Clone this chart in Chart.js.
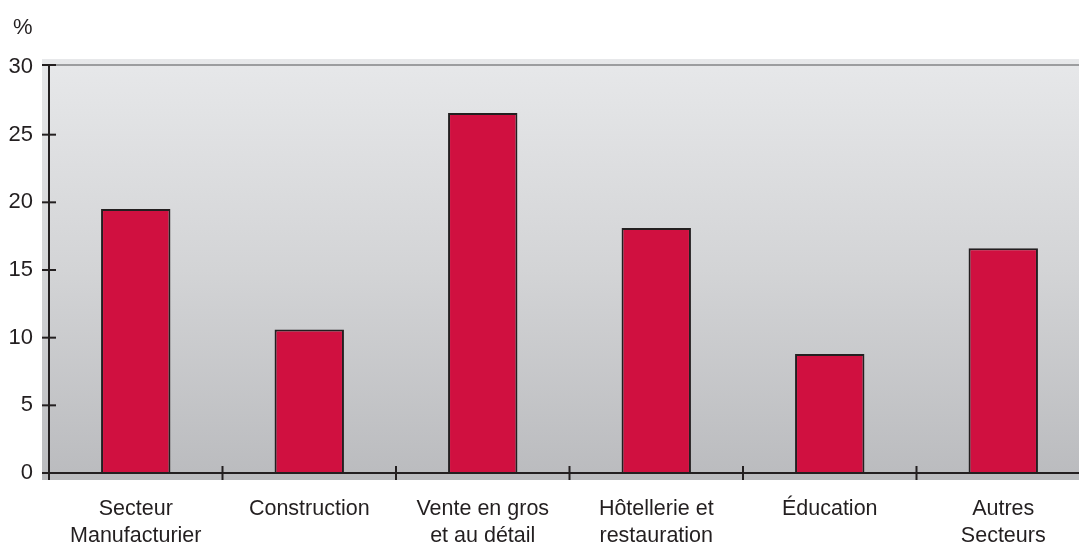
<!DOCTYPE html>
<html>
<head>
<meta charset="utf-8">
<script src="https://cdn.jsdelivr.net/npm/chart.js@4.4.1/dist/chart.umd.min.js"></script>
<style>
  html, body { margin: 0; padding: 0; background: #ffffff; overflow: hidden; }
  #wrap { width: 1090px; height: 548px; }
</style>
</head>
<body>
<div id="wrap"><canvas id="chart" width="1090" height="548"></canvas></div>
<script>
// Sector shares, in percent
const sectors = [
  ['Secteur', 'Manufacturier'],
  'Construction',
  ['Vente en gros', 'et au détail'],
  ['Hôtellerie et', 'restauration'],
  'Éducation',
  ['Autres', 'Secteurs']
];
const shares = [19.5, 10.6, 26.6, 18.1, 8.8, 16.6];
const yTicks = [0, 5, 10, 15, 20, 25, 30];

const ink = '#231f20';
const fontFamily = "'Liberation Sans', Arial, sans-serif";

// Gray gradient panel, frame lines and the crossing tick marks
const panelPlugin = {
  id: 'panel',
  beforeDraw(chart) {
    const { ctx, chartArea } = chart;
    const top = chartArea.top - 8;
    const bottom = chartArea.bottom + 7;
    const left = chartArea.left - 7;
    const grad = ctx.createLinearGradient(0, top, 0, bottom);
    grad.addColorStop(0, '#e7e8ea');
    grad.addColorStop(0.5, '#d3d4d6');
    grad.addColorStop(1, '#babbbe');
    ctx.save();
    ctx.fillStyle = grad;
    ctx.fillRect(left, top, chart.width - left, bottom - top);

    // line at the top of the scale
    const yScale = chart.scales.y;
    const yTop = yScale.getPixelForValue(30);
    ctx.strokeStyle = '#9c9d9f';
    ctx.lineWidth = 2;
    ctx.beginPath();
    ctx.moveTo(left, yTop - 2);
    ctx.lineTo(chart.width, yTop - 2);
    ctx.stroke();
    ctx.restore();
  },
  afterDatasetsDraw(chart) {
    const { ctx, chartArea } = chart;
    const yScale = chart.scales.y;
    const xScale = chart.scales.x;
    const axisX = chartArea.left;
    const zeroY = yScale.getPixelForValue(0);
    ctx.save();
    ctx.strokeStyle = ink;
    ctx.lineWidth = 2;

    // y axis
    ctx.beginPath();
    ctx.moveTo(axisX, yScale.getPixelForValue(30) - 2);
    ctx.lineTo(axisX, chartArea.bottom + 7);
    ctx.stroke();

    // zero line
    ctx.beginPath();
    ctx.moveTo(axisX - 7, zeroY);
    ctx.lineTo(chart.width, zeroY);
    ctx.stroke();

    // y ticks crossing the axis
    yTicks.forEach(v => {
      const y = yScale.getPixelForValue(v) - (v === 30 ? 2 : 0);
      ctx.beginPath();
      ctx.moveTo(axisX - 7, y);
      ctx.lineTo(axisX + 7, y);
      ctx.stroke();
    });

    // x ticks between categories
    for (let i = 1; i < sectors.length; i++) {
      const x = (xScale.getPixelForValue(i - 1) + xScale.getPixelForValue(i)) / 2;
      ctx.beginPath();
      ctx.moveTo(x, zeroY - 7);
      ctx.lineTo(x, zeroY + 7);
      ctx.stroke();
    }

    // unit label
    ctx.fillStyle = ink;
    ctx.font = '22px ' + fontFamily;
    ctx.textAlign = 'left';
    ctx.textBaseline = 'alphabetic';
    ctx.fillText('%', 13, 34);
    ctx.restore();
  }
};

new Chart(document.getElementById('chart'), {
  type: 'bar',
  data: {
    labels: sectors,
    datasets: [{
      data: shares,
      backgroundColor: '#d01040',
      borderColor: '#231f20',
      borderWidth: 2,
      borderSkipped: 'bottom',
      categoryPercentage: 1,
      barPercentage: 0.4
    }]
  },
  options: {
    responsive: false,
    animation: false,
    layout: {
      padding: { top: 67, right: 0, left: 0, bottom: 0 }
    },
    scales: {
      x: {
        afterFit: s => { s.height = 75; },
        grid: { display: false },
        border: { display: false },
        ticks: {
          color: ink,
          padding: 14,
          maxRotation: 0,
          autoSkip: false,
          font: { size: 21.5, family: fontFamily, lineHeight: 1.27 }
        }
      },
      y: {
        min: 0,
        max: 30,
        afterFit: s => { s.width = 49; },
        afterBuildTicks: s => { s.ticks = yTicks.map(v => ({ value: v })); },
        grid: { display: false },
        border: { display: false },
        ticks: {
          color: ink,
          padding: 8,
          font: { size: 22, family: fontFamily }
        }
      }
    },
    plugins: {
      legend: { display: false },
      tooltip: { enabled: false }
    }
  },
  plugins: [panelPlugin]
});
</script>
</body>
</html>
